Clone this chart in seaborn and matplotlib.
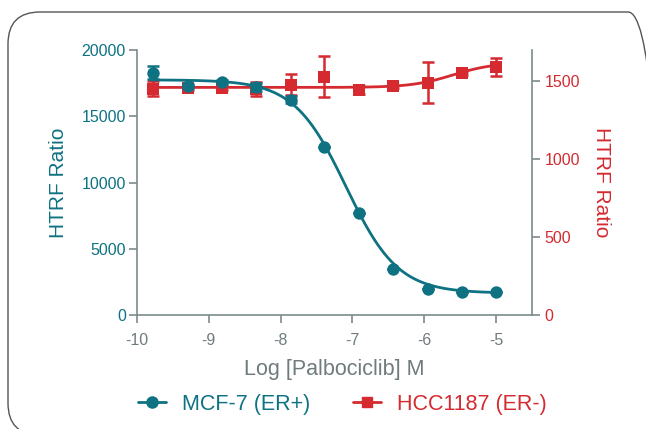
import matplotlib
matplotlib.use("Agg")
import matplotlib.pyplot as plt
from matplotlib.lines import Line2D
from matplotlib.patches import FancyBboxPatch
import numpy as np
import pandas as pd
import seaborn as sns

# log concentration of palbociclib (M)
log_conc = [-9.77, -9.29, -8.82, -8.34, -7.86, -7.39, -6.91, -6.43, -5.95, -5.48, -5.0]

mcf7_ratio = [18300, 17300, 17600, 17200, 16250, 12700, 7700, 3470, 1960, 1730, 1700]
mcf7_err = [500, 150, 150, 300, 250, 0, 0, 0, 0, 0, 0]

hcc_ratio = [1452, 1457, 1457, 1447, 1478, 1530, 1442, 1468, 1490, 1550, 1592]
hcc_err = [50, 12, 12, 45, 68, 130, 25, 10, 130, 10, 58]

# 4PL fit parameters (bottom, top, logEC50, hill)
mcf7_fit = (1650, 17750, -7.09, -1.2)
hcc_fit = (1460, 1620, -5.6, 1.5)

TEAL = "#0e7282"
RED = "#d42a30"
GREY = "#7b8a8c"
TXT_GREY = "#6f7b7d"


def four_pl(x, bottom, top, c, h):
    return bottom + (top - bottom) / (1 + 10 ** ((c - x) * h))


sns.set_style("ticks")
plt.rcParams["font.family"] = ["Liberation Sans", "DejaVu Sans"]

fig = plt.figure(figsize=(6.46, 4.29), dpi=100)
ax = fig.add_axes([0.212, 0.2657, 0.6115, 0.6177])
ax2 = ax.twinx()

xs = np.linspace(-9.8, -5.0, 300)
fit_df = pd.DataFrame({
    "x": xs,
    "mcf7": four_pl(xs, *mcf7_fit),
    "hcc": four_pl(xs, *hcc_fit),
})
pts = pd.DataFrame({"x": log_conc, "mcf7": mcf7_ratio, "hcc": hcc_ratio})

# HCC1187 on right axis
ax2.errorbar(log_conc, hcc_ratio, yerr=hcc_err, fmt="none", ecolor=RED,
             elinewidth=1.8, capsize=4, capthick=1.8, zorder=2)
sns.lineplot(data=fit_df, x="x", y="hcc", ax=ax2, color=RED, linewidth=2, zorder=2)
sns.scatterplot(data=pts, x="x", y="hcc", ax=ax2, color=RED, marker="s",
                s=70, edgecolor=RED, linewidth=0, zorder=3)

# MCF-7 on left axis
ax.errorbar(log_conc, mcf7_ratio, yerr=mcf7_err, fmt="none", ecolor=TEAL,
            elinewidth=1.8, capsize=4, capthick=1.8, zorder=2)
sns.lineplot(data=fit_df, x="x", y="mcf7", ax=ax, color=TEAL, linewidth=2, zorder=2)
sns.scatterplot(data=pts, x="x", y="mcf7", ax=ax, color=TEAL, marker="o",
                s=80, edgecolor=TEAL, linewidth=0, zorder=3)

ax.set_zorder(ax2.get_zorder() + 1)
ax.patch.set_visible(False)

ax.set_xlim(-10, -4.5)
ax.set_ylim(0, 20000)
ax2.set_ylim(0, 1700)
ax.set_xticks([-10, -9, -8, -7, -6, -5])
ax.set_xticklabels(["-10", "-9", "-8", "-7", "-6", "-5"])
ax.set_yticks([0, 5000, 10000, 15000, 20000])
ax2.set_yticks([0, 500, 1000, 1500])

for a in (ax, ax2):
    for s in a.spines.values():
        s.set_visible(False)
        s.set_color(GREY)
        s.set_linewidth(1.2)
ax.spines["left"].set_visible(True)
ax.spines["bottom"].set_visible(True)
ax2.spines["right"].set_visible(True)

ax.tick_params(axis="x", colors=GREY, labelcolor=TXT_GREY, labelsize=11.5,
               length=6, width=1.2, pad=7)
ax.tick_params(axis="y", colors=GREY, labelcolor=TEAL, labelsize=11.5,
               length=6, width=1.2, pad=2)
ax2.tick_params(axis="y", colors=GREY, labelcolor=RED, labelsize=11.5,
                length=6, width=1.2, pad=3)

ax.set_xlabel("Log [Palbociclib] M", color=TXT_GREY, fontsize=15.5, labelpad=8)
ax.set_ylabel("HTRF Ratio", color=TEAL, fontsize=15, labelpad=10)
ax2.set_ylabel("HTRF Ratio", color=RED, fontsize=15, rotation=270, labelpad=22)

handles = [
    Line2D([0], [0], color=TEAL, marker="o", markersize=8, linewidth=2),
    Line2D([0], [0], color=RED, marker="s", markersize=7, linewidth=2),
]
leg = fig.legend(handles, ["MCF-7 (ER+)", "HCC1187 (ER-)"], loc="center",
                 bbox_to_anchor=(0.530, 0.058), ncol=2, frameon=False,
                 fontsize=15.5, handlelength=1.3, columnspacing=2.0,
                 handletextpad=0.75)
for t, c in zip(leg.get_texts(), [TEAL, RED]):
    t.set_color(c)

# rounded frame around the panel (runs off the right and bottom edges)
frame = FancyBboxPatch((8, -6), 652, 423,
                       boxstyle="round,pad=0,rounding_size=32",
                       transform=None, fill=False, edgecolor="#555555",
                       linewidth=1.0)
fig.patches.append(frame)

fig.savefig("out.png", dpi=100)
